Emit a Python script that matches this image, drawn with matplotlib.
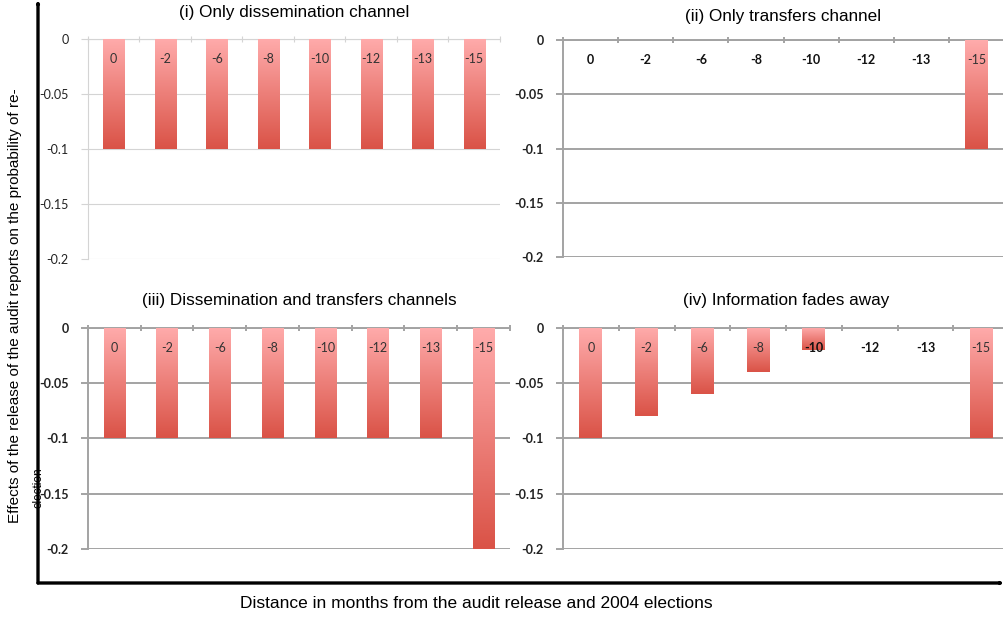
import numpy as np
import matplotlib
matplotlib.use("Agg")
import matplotlib.pyplot as plt
from matplotlib.colors import LinearSegmentedColormap
from matplotlib.patches import FancyArrowPatch

categories = ['0', '-2', '-6', '-8', '-10', '-12', '-13', '-15']
only_dissemination = [-0.1, -0.1, -0.1, -0.1, -0.1, -0.1, -0.1, -0.1]
only_transfers = [0.0, 0.0, 0.0, 0.0, 0.0, 0.0, 0.0, -0.1]
both_channels = [-0.1, -0.1, -0.1, -0.1, -0.1, -0.1, -0.1, -0.2]
fades_away = [-0.1, -0.08, -0.06, -0.04, -0.02, 0.0, 0.0, -0.1]
y_ticks = [0, -0.05, -0.1, -0.15, -0.2]
y_ticklabels = ['0', '-0.05', '-0.1', '-0.15', '-0.2']

panels = [
    ('(i) Only dissemination channel', only_dissemination, [0.0876, 0.5809, 0.4104, 0.356], False, 16),
    ('(ii) Only transfers channel', only_transfers, [0.5608, 0.5841, 0.4392, 0.3512], True, 14),
    ('(iii) Dissemination and transfers channels', both_channels, [0.0876, 0.1117, 0.4203, 0.3576], True, 16.5),
    ('(iv) Information fades away', fades_away, [0.5608, 0.1117, 0.4442, 0.3576], True, 16.5),
]

bar_cmap = LinearSegmentedColormap.from_list('bar', ['#ffabab', '#da5347'])
grad = np.linspace(0, 1, 100).reshape(-1, 1)

fig = plt.figure(figsize=(10.04, 6.18), dpi=100)

for title, values, rect, heavy, tpad in panels:
    ax = fig.add_axes(rect)
    grid_col = '#a3a3a3' if heavy else '#d4d4d4'
    grid_lw = 1.4 if heavy else 0.8
    x = np.arange(len(categories))
    bars = ax.bar(x, values, width=0.41, color='#ffabab', zorder=2)
    # vertical gradient in each bar, light at zero and deep red at the tip
    for b in bars:
        h = b.get_height()
        if h == 0:
            continue
        x0 = b.get_x()
        ax.imshow(grad, cmap=bar_cmap, aspect='auto', zorder=3,
                  extent=[x0, x0 + b.get_width(), h, 0], origin='upper')
    ax.set_xlim(-0.5, len(categories) - 0.5)
    ax.set_ylim(-0.2, 0)
    ax.set_yticks(y_ticks)
    ax.set_yticklabels(y_ticklabels, fontsize=9, family='Lato',
                       fontweight='bold' if heavy else 'normal', color='#222222')
    ax.yaxis.grid(True, color=grid_col, lw=grid_lw, zorder=0)
    ax.set_axisbelow(True)
    ax.tick_params(axis='y', length=5, color=grid_col, width=grid_lw, pad=9)
    # boundary ticks along the zero line
    ax.set_xticks(np.arange(len(categories) + 1) - 0.5)
    ax.set_xticklabels([])
    ax.xaxis.tick_top()
    ax.tick_params(axis='x', direction='inout', length=5, color=grid_col, width=grid_lw)
    for s in ['right', 'bottom']:
        ax.spines[s].set_visible(False)
    for s in ['left', 'top']:
        ax.spines[s].set_color(grid_col)
        ax.spines[s].set_linewidth(grid_lw)
    for xi, (lab, v) in enumerate(zip(categories, values)):
        bold = heavy and v > -0.03
        ax.text(xi, -0.018, lab, ha='center', va='center', fontsize=9, family='Lato',
                fontweight='bold' if bold else 'normal',
                color='#111111' if bold else '#333333', zorder=5)
    ax.set_title(title, fontsize=12.3, family='Liberation Sans', pad=tpad)

# long axis arrows framing the whole grid
arrow = dict(arrowstyle='->,head_length=0.6,head_width=0.3', lw=2.4, color='black',
             shrinkA=0, shrinkB=0, transform=fig.transFigure)
origin = (38 / 1004, 1 - 583 / 618)
fig.add_artist(FancyArrowPatch(origin, (38 / 1004, 1.0), **arrow))
fig.add_artist(FancyArrowPatch(origin, (1.0, 1 - 583 / 618), **arrow))

fig.text(476 / 1004, 1 - 604 / 618, 'Distance in months from the audit release and 2004 elections',
         ha='center', va='center', fontsize=12.5, family='Liberation Sans')
fig.text(15 / 1004, 1 - 523 / 618,
         'Effects of the release of the audit reports on the probability of re-',
         rotation=90, ha='center', va='bottom', fontsize=11, family='Liberation Sans')
fig.text(38 / 1004, 1 - 508 / 618, 'election',
         rotation=90, ha='center', va='bottom', fontsize=8.5, family='Liberation Sans')

fig.savefig('out.png', dpi=100)
